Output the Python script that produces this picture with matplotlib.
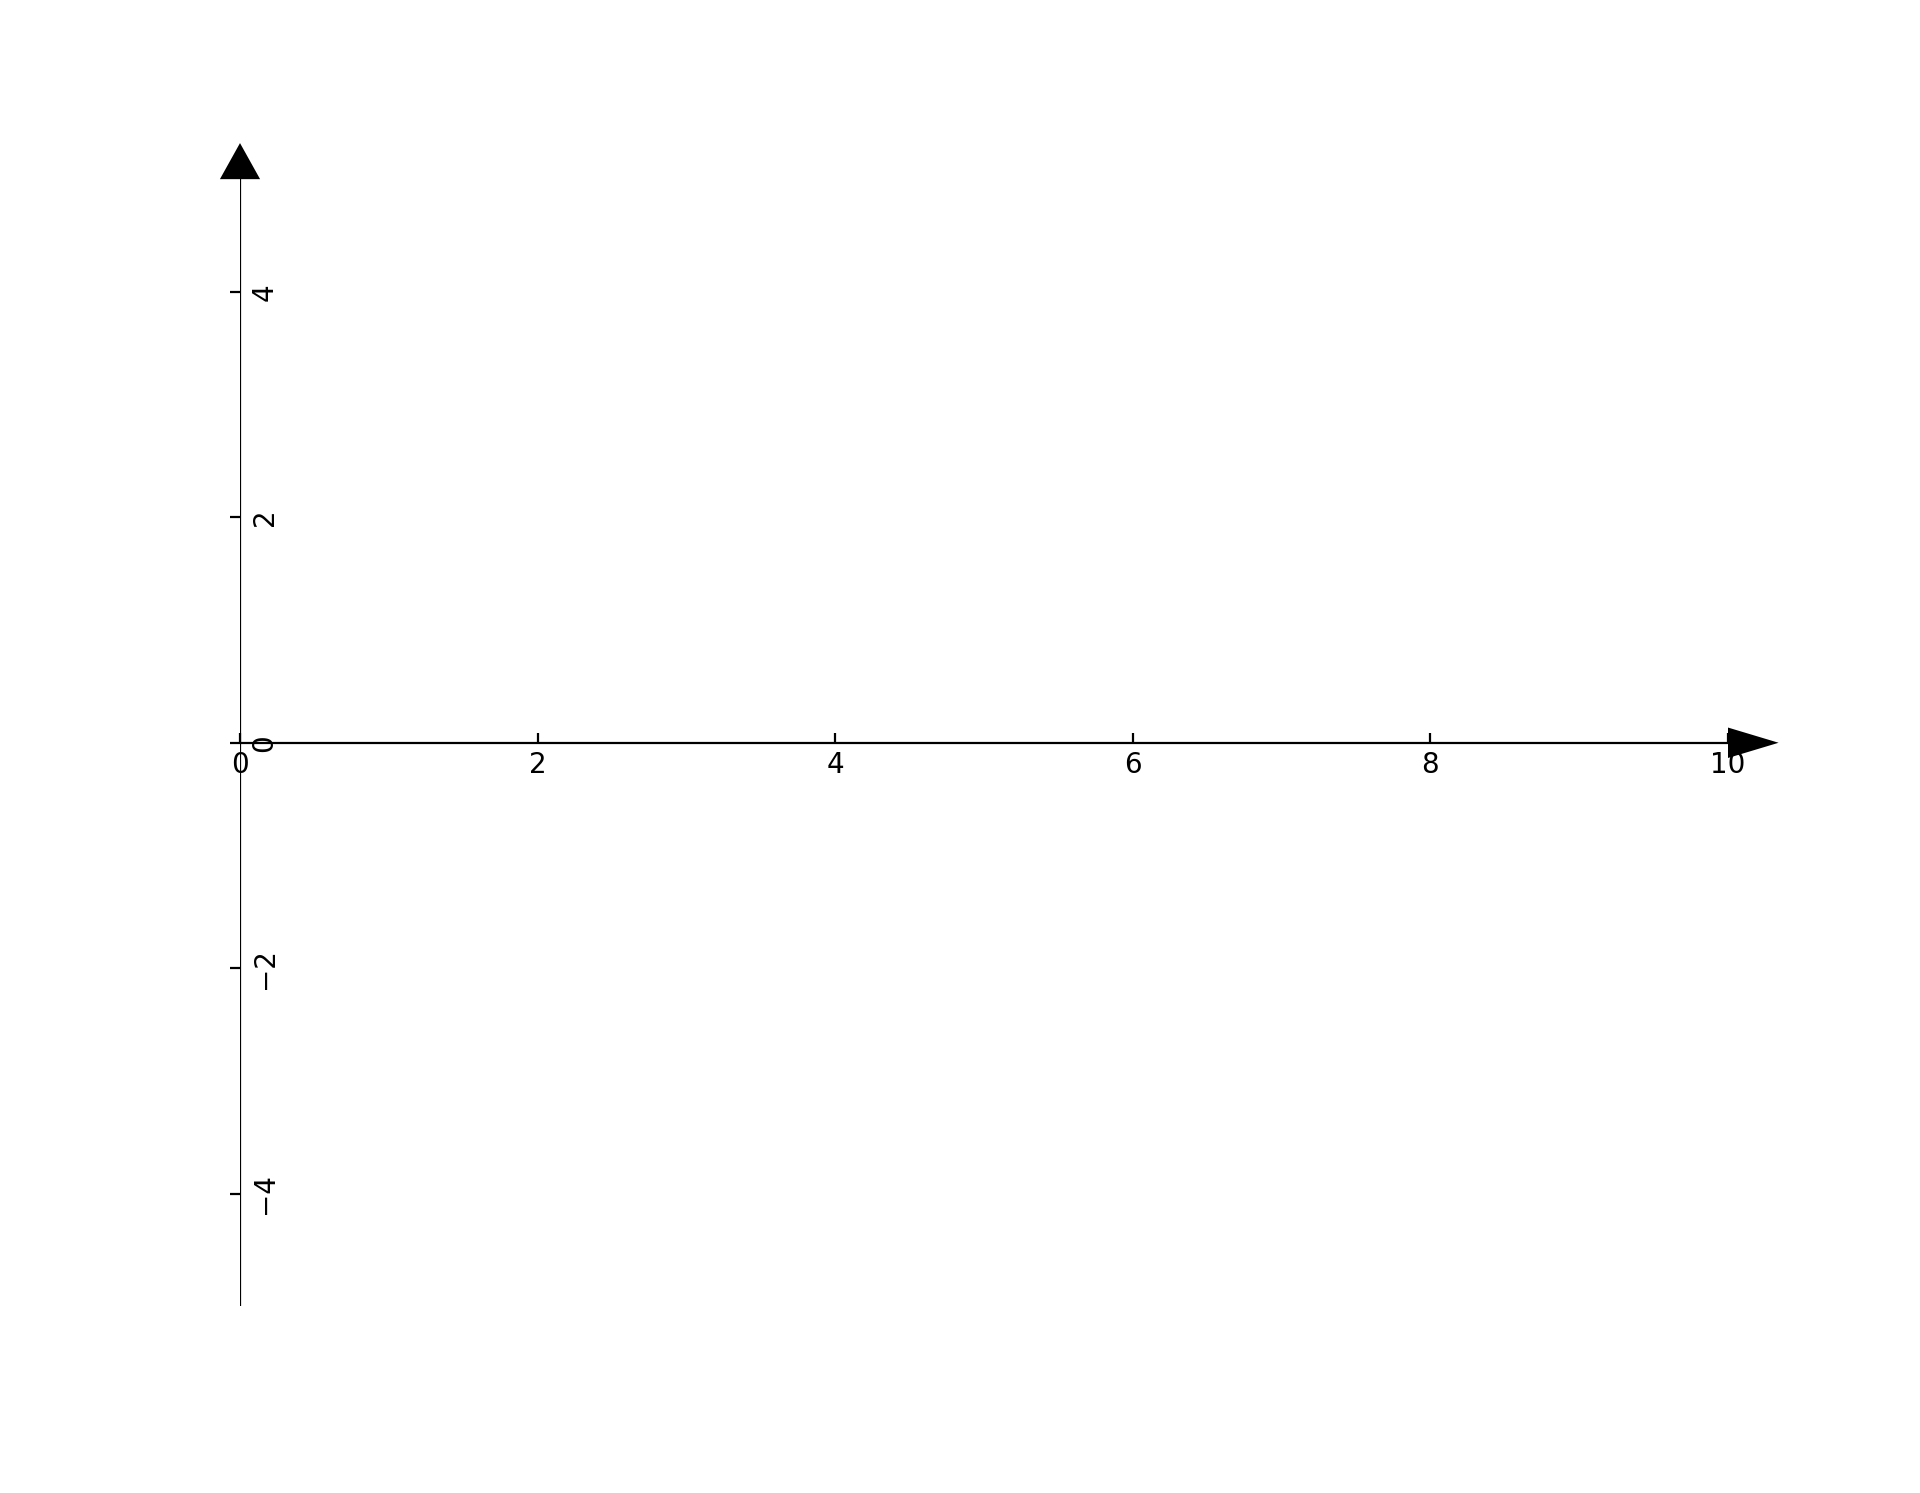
import matplotlib
matplotlib.use("Agg")
import matplotlib.pyplot as plt
from mpl_toolkits.axisartist.axislines import AxesZero

# axis ranges and ticks
x_limits = [0, 10]
y_limits = [-5, 5]
x_ticks = [0, 2, 4, 6, 8, 10]
y_ticks = [-4, -2, 0, 2, 4]

fig = plt.figure(figsize=(9.6, 7.465), dpi=200)
ax = fig.add_subplot(axes_class=AxesZero)
fig.subplots_adjust(left=0.125, right=0.9, top=0.88, bottom=0.125)

for direction in ["xzero", "yzero"]:
    ax.axis[direction].set_visible(True)

# y labels on the right of the zero line, rotated
ax.axis["yzero"].set_axis_direction("right")
ax.axis["yzero"].major_ticklabels.set_rotation(0)
ax.axis["yzero"].major_ticklabels.set_ha("center")
ax.axis["yzero"].major_ticklabels.set_pad(1.5)

for direction in ["left", "right", "bottom", "top"]:
    ax.axis[direction].set_visible(False)

# arrow heads at the axis ends (sized in data units)
ax.arrow(x_limits[1], 0, 1e-6, 0, head_width=0.27, head_length=0.34,
         fc="k", ec="k", lw=0, clip_on=False)
ax.arrow(0, y_limits[1], 0, 1e-6, head_width=0.27, head_length=0.32,
         fc="k", ec="k", lw=0, clip_on=False)

ax.set_xlim(x_limits)
ax.set_ylim(y_limits)
ax.set_xticks(x_ticks)
ax.set_yticks(y_ticks)

fig.savefig("out.png", dpi=200)
